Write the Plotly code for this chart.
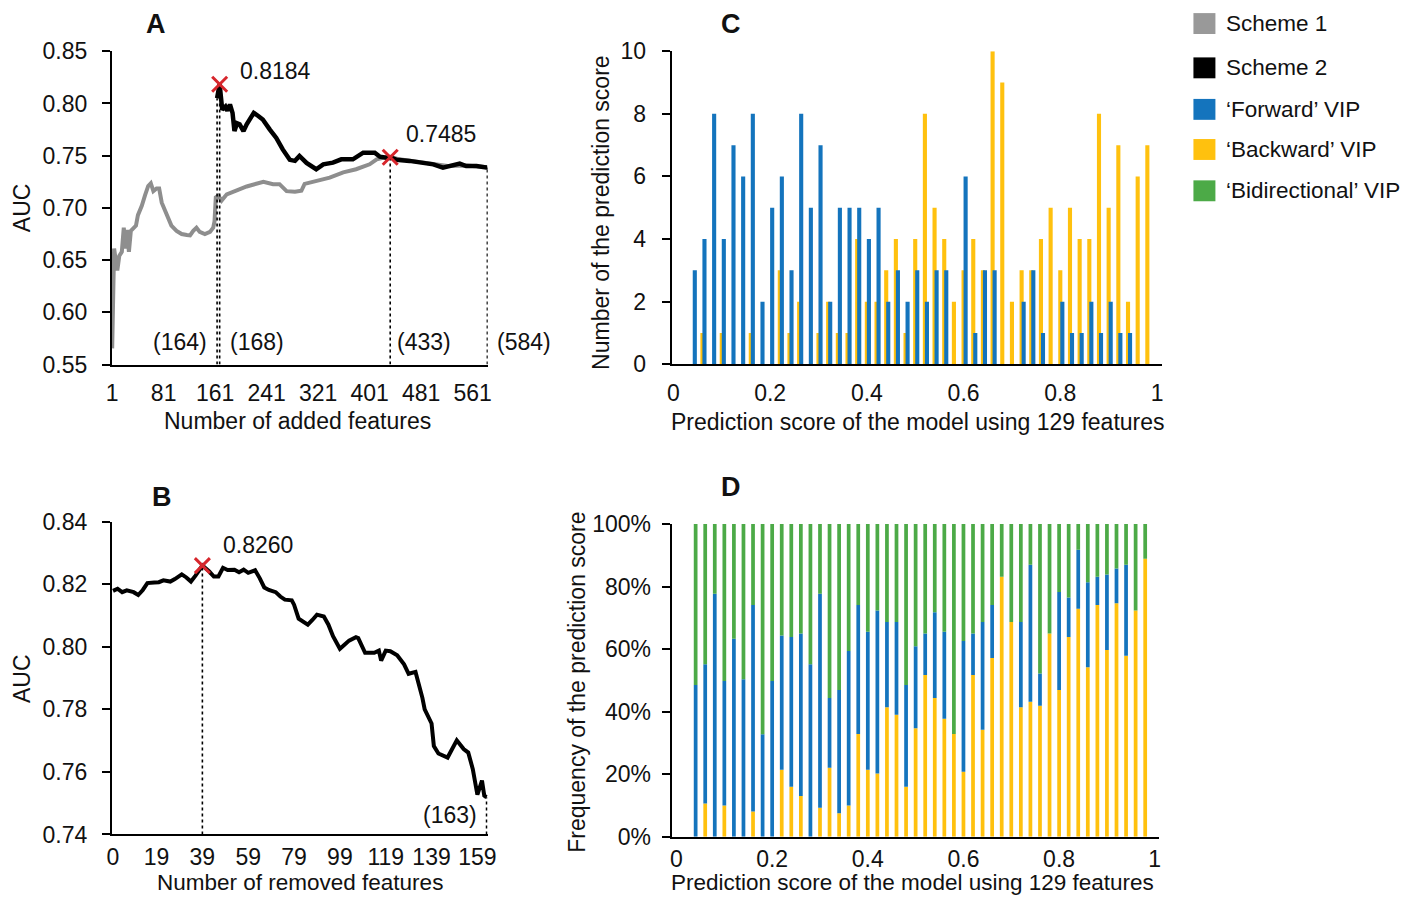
import plotly.graph_objects as go

W, H = 1416, 905
FONT = "Liberation Sans, Arial, Helvetica, sans-serif"
TXT = "#111111"

# ---------------- Panel A: number of added features ----------------
scheme1_x = [1, 4, 7, 9, 12, 16, 19, 22, 24, 27, 30, 34, 38, 41, 47, 52, 57, 61, 65, 70,
             74, 78, 83, 88, 93, 101, 109, 117, 122, 127, 132, 137, 145, 153, 158, 160, 162, 166, 171, 179,
             194, 210, 236, 251, 261, 272, 285, 295, 300, 318, 339, 360, 380, 401, 412, 422, 433, 447, 468, 499,
             525, 551, 567, 584]
scheme1_auc = [0.5655, 0.661, 0.648, 0.640, 0.654, 0.658, 0.681, 0.661, 0.679, 0.658,
               0.678, 0.680, 0.683, 0.693, 0.702, 0.712, 0.721, 0.7236, 0.716, 0.7186,
               0.7186, 0.705, 0.697, 0.689, 0.683, 0.678, 0.675, 0.674, 0.6736, 0.678,
               0.681, 0.677, 0.675, 0.677, 0.681, 0.687, 0.710, 0.7116, 0.707, 0.713,
               0.717, 0.7205, 0.725, 0.7227, 0.7227, 0.716, 0.7155, 0.7164, 0.723, 0.726,
               0.729, 0.734, 0.737, 0.7417, 0.7465, 0.748, 0.749, 0.7465, 0.745, 0.742,
               0.740, 0.7405, 0.740, 0.739]
scheme2_x = [164, 166, 168, 170, 172, 177, 180, 184, 188, 191, 195, 199, 205, 210, 216, 221, 228, 235, 246, 256,
             266, 277, 285, 292, 303, 318, 329, 344, 357, 368, 375, 391, 409, 417, 427, 433, 443, 463, 479, 500,
             515, 525, 541, 551, 567, 582, 584]
scheme2_auc = [0.805, 0.812, 0.8184, 0.806, 0.794, 0.797, 0.793, 0.799, 0.791, 0.7735,
               0.781, 0.780, 0.7735, 0.780, 0.786, 0.791, 0.788, 0.7846, 0.775, 0.767,
               0.756, 0.746, 0.745, 0.7497, 0.743, 0.737, 0.7417, 0.7433, 0.7465, 0.7465,
               0.7465, 0.7529, 0.7529, 0.749, 0.748, 0.7485, 0.746, 0.745, 0.7433, 0.7417,
               0.7386, 0.740, 0.7424, 0.740, 0.740, 0.7386, 0.739]
a_best_x = [168, 433]
a_best_auc = [0.8184, 0.7485]
a_drop_x = [164, 168, 433, 584]
a_drop_top = [0.805, 0.8184, 0.7485, 0.739]
a_xticks = [1, 81, 161, 241, 321, 401, 481, 561]

# ---------------- Panel B: number of removed features ----------------
removed_x = [0, 2, 4, 6, 9, 11, 13, 15, 18, 20, 22, 25, 27, 30, 32, 34, 36, 39, 42, 44,
             46, 48, 50, 53, 55, 57, 59, 62, 64, 66, 68, 71, 73, 75, 78, 79, 81, 85, 87, 89,
             92, 94, 96, 99, 101, 103, 106, 107, 110, 114, 116, 117, 119, 121, 124, 127, 129, 132, 135, 136,
             139, 140, 142, 146, 150, 153, 155, 157, 159, 161, 162, 163]
removed_auc = [0.8179, 0.8186, 0.8175, 0.8181, 0.8175, 0.8166, 0.8182, 0.8204, 0.8206, 0.8207,
               0.8213, 0.8209, 0.8217, 0.8232, 0.8222, 0.8209, 0.8228, 0.8260, 0.8241, 0.8225,
               0.8225, 0.8253, 0.8246, 0.8247, 0.8239, 0.8247, 0.8237, 0.8245, 0.8220, 0.8190,
               0.8182, 0.8175, 0.8161, 0.8151, 0.8149, 0.8135, 0.8090, 0.8071, 0.8086, 0.8103,
               0.8097, 0.8071, 0.8034, 0.7994, 0.8007, 0.8020, 0.8031, 0.8028, 0.7981, 0.7981,
               0.7988, 0.7956, 0.7988, 0.7986, 0.7973, 0.7944, 0.7914, 0.7920, 0.7837, 0.7800,
               0.7755, 0.7683, 0.7659, 0.7646, 0.7701, 0.7673, 0.7662, 0.7609, 0.7527, 0.7572,
               0.7524, 0.7519]
b_best_x = [39]
b_best_auc = [0.8260]
b_drop_x = [39, 163]
b_drop_top = [0.8260, 0.7519]
b_xticks = [0, 19, 39, 59, 79, 99, 119, 139, 159]

# ---------------- Panels C & D: prediction score bins ----------------
score_bins = [0.04, 0.06, 0.08, 0.10, 0.12, 0.14, 0.16, 0.18, 0.20, 0.22,
              0.24, 0.26, 0.28, 0.30, 0.32, 0.34, 0.36, 0.38, 0.40, 0.42,
              0.44, 0.46, 0.48, 0.50, 0.52, 0.54, 0.56, 0.58, 0.60, 0.62,
              0.64, 0.66, 0.68, 0.70, 0.72, 0.74, 0.76, 0.78, 0.80, 0.82,
              0.84, 0.86, 0.88, 0.90, 0.92, 0.94, 0.96, 0.98]
forward_counts = [3, 4, 8, 4, 7, 6, 8, 2, 5, 6, 3, 8, 5, 7, 2, 5, 5, 5, 4, 5,
                  2, 3, 2, 3, 2, 3, 3, 0, 6, 1, 3, 3, 0, 0, 2, 3, 1, 0, 2, 1,
                  1, 2, 1, 2, 1, 1, 0, 0]
backward_counts = [0, 1, 0, 1, 0, 0, 1, 0, 0, 3, 1, 2, 0, 1, 2, 1, 1, 4, 2, 2,
                   3, 4, 1, 4, 8, 5, 4, 2, 3, 4, 3, 10, 9, 2, 3, 3, 4, 5, 3, 5,
                   4, 4, 8, 5, 7, 2, 6, 7]
backward_pct = [0, 10.6, 0, 10.0, 0, 0, 8.1, 0, 0, 21.4, 16.0, 13.0, 0, 9.3, 22.1, 7.5, 10.0, 32.9, 21.4, 20.2,
                41.4, 39.0, 16.0, 34.7, 51.7, 44.4, 37.7, 32.9, 20.8, 51.7, 34.2, 57.2, 83.2, 68.7, 41.4, 43.2,
                41.9, 65.0, 46.9, 63.9, 72.9, 54.2, 74.1, 59.7, 74.7, 57.9, 72.4, 88.9]
forward_pct = [48.5, 44.6, 77.7, 39.8, 63.3, 50.4, 66.0, 32.8, 49.8, 43.0, 47.9, 52.0, 55.2, 68.4, 22.3, 39.4,
               49.4, 41.2, 44.2, 52.2, 27.3, 29.7, 32.5, 26.2, 13.3, 27.4, 27.9, 0, 41.8, 13.3, 34.5, 16.9,
               0, 0, 27.3, 43.8, 10.3, 0, 31.4, 12.6, 18.9, 27.2, 9.1, 24.2, 11.1, 29.1, 0, 0]
bidirectional_pct = [51.5, 44.8, 22.3, 50.2, 36.7, 49.6, 25.9, 67.2, 50.2, 35.6, 36.1, 35.0, 44.8, 22.3, 55.6, 53.1,
                     40.6, 25.9, 34.4, 27.6, 31.3, 31.3, 51.5, 39.1, 35.0, 28.2, 34.4, 67.1, 37.4, 35.0, 31.3, 25.9,
                     16.8, 31.3, 31.3, 13.0, 47.8, 35.0, 21.7, 23.5, 8.2, 18.6, 16.8, 16.1, 14.2, 13.0, 27.6, 11.1]
score_ticks = [0, 0.2, 0.4, 0.6, 0.8, 1]
score_ticktext = ["0", "0.2", "0.4", "0.6", "0.8", "1"]

C_GRAY = "#8e8e8e"
C_BLACK = "#000000"
C_BLUE = "#1474bd"
C_YELLOW = "#ffc10e"
C_GREEN = "#4caa47"
C_RED = "#d7262c"

# calibration of the photographed page (observed scale/offset of the capture)
V_SCALE, V_OFF = 0.9756, 9.9
H_SCALE, H_OFF = 0.9898, 6.1


def px(x):
    return ((x - H_OFF) / H_SCALE) / W


def py(y, limit=None):
    yy = (y - V_OFF) / V_SCALE
    if limit is not None:
        yy = min(yy, limit)
    return 1 - yy / H


def drop_lines(xs, tops, base):
    lx, ly = [], []
    for x, t in zip(xs, tops):
        lx += [x, x, None]
        ly += [base, t, None]
    return lx, ly


fig = go.Figure()

# Panel A
fig.add_trace(go.Scatter(x=scheme1_x, y=scheme1_auc, mode="lines", line=dict(color=C_GRAY, width=4),
                         xaxis="x", yaxis="y", showlegend=False, name="Scheme 1"))
ax, ay = drop_lines(a_drop_x, a_drop_top, 0.55)
fig.add_trace(go.Scatter(x=ax, y=ay, mode="lines", line=dict(color="black", width=1.6, dash="3px,3px"),
                         xaxis="x", yaxis="y", showlegend=False, cliponaxis=False))
fig.add_trace(go.Scatter(x=scheme2_x, y=scheme2_auc, mode="lines", line=dict(color=C_BLACK, width=4.5),
                         xaxis="x", yaxis="y", showlegend=False, name="Scheme 2"))
fig.add_trace(go.Scatter(x=a_best_x, y=a_best_auc, mode="markers",
                         marker=dict(symbol="x-thin", size=15, line=dict(color=C_RED, width=3)),
                         xaxis="x", yaxis="y", showlegend=False, cliponaxis=False))

# Panel B
bx, by = drop_lines(b_drop_x, b_drop_top, 0.74)
fig.add_trace(go.Scatter(x=bx, y=by, mode="lines", line=dict(color="black", width=1.6, dash="3px,3px"),
                         xaxis="x2", yaxis="y2", showlegend=False, cliponaxis=False))
fig.add_trace(go.Scatter(x=removed_x, y=removed_auc, mode="lines", line=dict(color=C_BLACK, width=4),
                         xaxis="x2", yaxis="y2", showlegend=False))
fig.add_trace(go.Scatter(x=b_best_x, y=b_best_auc, mode="markers",
                         marker=dict(symbol="x-thin", size=15, line=dict(color=C_RED, width=3)),
                         xaxis="x2", yaxis="y2", showlegend=False, cliponaxis=False))

# Panel C (clustered, overlapping columns)
BW_C = 0.0085
fig.add_trace(go.Bar(x=score_bins, y=backward_counts, width=BW_C, offset=-BW_C / 2,
                     marker=dict(color=C_YELLOW, line=dict(width=0)),
                     xaxis="x3", yaxis="y3", showlegend=False))
fig.add_trace(go.Bar(x=score_bins, y=forward_counts, width=BW_C, offset=-BW_C / 2 + 0.0042,
                     marker=dict(color=C_BLUE, line=dict(width=0)),
                     xaxis="x3", yaxis="y3", showlegend=False))

# Panel D (100% stacked columns)
base_fwd = list(backward_pct)
base_bid = [b + f for b, f in zip(backward_pct, forward_pct)]
BW_D = 0.0078
fig.add_trace(go.Bar(x=score_bins, y=backward_pct, width=BW_D,
                     marker=dict(color=C_YELLOW, line=dict(width=0)),
                     xaxis="x4", yaxis="y4", showlegend=False))
fig.add_trace(go.Bar(x=score_bins, y=forward_pct, base=base_fwd, width=BW_D,
                     marker=dict(color=C_BLUE, line=dict(width=0)),
                     xaxis="x4", yaxis="y4", showlegend=False))
fig.add_trace(go.Bar(x=score_bins, y=bidirectional_pct, base=base_bid, width=BW_D,
                     marker=dict(color=C_GREEN, line=dict(width=0)),
                     xaxis="x4", yaxis="y4", showlegend=False))

FS = 23
tickfont = dict(family=FONT, size=FS, color=TXT)
common_x = dict(showline=True, linecolor="black", linewidth=2, showgrid=False, zeroline=False,
                ticks="", tickfont=tickfont, ticklabelstandoff=7, fixedrange=True)
common_y = dict(showline=True, linecolor="black", linewidth=2, showgrid=False, zeroline=False,
                ticks="outside", ticklen=8, tickwidth=2, tickcolor="black", tickfont=tickfont,
                ticklabelstandoff=10, fixedrange=True)

fig.update_layout(
    width=W, height=H,
    margin=dict(l=0, r=0, t=0, b=0),
    paper_bgcolor="white", plot_bgcolor="white",
    barmode="overlay",
    font=dict(family=FONT, size=FS, color=TXT),
    showlegend=False,
    xaxis=dict(common_x, domain=[px(112), px(488)], range=[0.5, 584.5],
               tickmode="array", tickvals=a_xticks, anchor="y"),
    yaxis=dict(common_y, domain=[py(363), py(48.3)], range=[0.55, 0.85], dtick=0.05,
               tickformat=".2f", anchor="x"),
    xaxis2=dict(common_x, domain=[px(112), px(488)], range=[-0.5, 163.5],
                tickmode="array", tickvals=b_xticks, ticklabelstandoff=1, anchor="y2"),
    yaxis2=dict(common_y, domain=[py(835), py(521)], range=[0.74, 0.84], dtick=0.02,
                tickformat=".2f", anchor="x2"),
    xaxis3=dict(common_x, domain=[px(672), px(1163)], range=[-0.0037, 1.0112],
                tickmode="array", tickvals=score_ticks, ticktext=score_ticktext, anchor="y3"),
    yaxis3=dict(common_y, domain=[py(362.7), py(48.3)], range=[0, 10], dtick=2,
                ticklabelstandoff=11, anchor="x3"),
    xaxis4=dict(common_x, domain=[px(672), px(1160)], range=[-0.0102, 1.0098],
                tickmode="array", tickvals=score_ticks, ticktext=score_ticktext,
                ticklabelstandoff=1, anchor="y4"),
    yaxis4=dict(common_y, domain=[py(837.3), py(523.3)], range=[0, 100], dtick=20,
                ticksuffix="%", ticklabelstandoff=6, anchor="x4"),
)

annotations = []


def add_text(text, x, y, size=FS, bold=False, angle=0, xanchor="center", limit=None):
    annotations.append(dict(text=("<b>%s</b>" % text) if bold else text,
                            x=px(x), y=py(y, limit), xref="paper", yref="paper",
                            xanchor=xanchor, yanchor="middle", showarrow=False,
                            textangle=angle, font=dict(family=FONT, size=size, color=TXT)))


# panel letters
add_text("A", 156, 21, size=27, bold=True)
add_text("B", 162, 496, size=27, bold=True)
add_text("C", 731, 21, size=27, bold=True)
add_text("D", 731, 486, size=27, bold=True)

# axis titles
add_text("AUC", 22, 205, angle=-90)
add_text("Number of added features", 298, 420)
add_text("AUC", 22, 678, angle=-90)
add_text("Number of removed features", 300, 891, size=22.5, limit=895)
add_text("Number of the prediction score", 602, 210, angle=-90)
add_text("Prediction score of the model using 129 features", 918, 421)
add_text("Frequency of the prediction score", 577, 682, angle=-90)
add_text("Prediction score of the model using 129 features", 913, 894, size=22.5, limit=895)

# value labels
add_text("0.8184", 276, 68)
add_text("0.7485", 441, 131)
add_text("(164)", 180, 340)
add_text("(168)", 257, 340)
add_text("(433)", 424, 340)
add_text("(584)", 524, 340)
add_text("0.8260", 258, 544)
add_text("(163)", 450, 815)

# manual legend
legend_items = [("Scheme 1", "#999999", 20.5), ("Scheme 2", "#000000", 65),
                ("\u2018Forward\u2019 VIP", C_BLUE, 106.7), ("\u2018Backward\u2019 VIP", C_YELLOW, 147),
                ("\u2018Bidirectional\u2019 VIP", C_GREEN, 188.5)]
shapes = []
for label, col, yc in legend_items:
    shapes.append(dict(type="rect", xref="paper", yref="paper",
                       x0=px(1194), x1=px(1216), y0=py(yc + 10.5), y1=py(yc - 10.5),
                       fillcolor=col, line=dict(width=0)))
    add_text(label, 1225, yc, size=22.5, xanchor="left")

fig.update_layout(annotations=annotations, shapes=shapes)
fig.write_html("out.html", config={"displayModeBar": False},
               post_script="document.body.style.margin='0px';"
                           "document.documentElement.style.overflow='hidden';"
                           "document.body.style.overflow='hidden';")
